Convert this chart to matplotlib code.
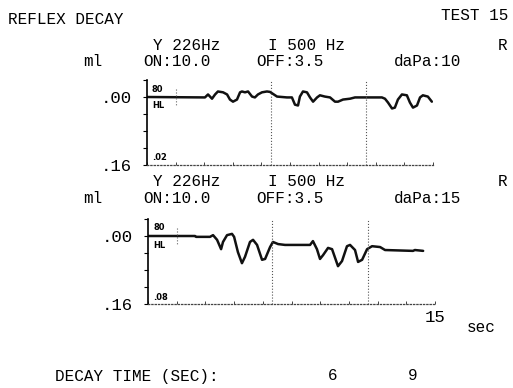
import matplotlib
matplotlib.use("Agg")
import matplotlib.pyplot as plt
import numpy as np

# time (s) and compliance change (ml)
top_t = [0.0, 3.04, 3.20, 3.41, 3.57, 3.72, 3.99, 4.20, 4.35, 4.51, 4.72, 4.88, 4.98,
         5.14, 5.30, 5.51, 5.66, 5.82, 6.03, 6.29, 6.45, 6.82, 7.34, 7.60, 7.76, 7.92,
         8.02, 8.18, 8.39, 8.55, 8.71, 8.92, 9.07, 9.33, 9.60, 9.86, 10.02, 10.28, 10.65,
         10.91, 11.48, 11.96, 12.32, 12.48, 12.64, 12.85, 13.00, 13.16, 13.37, 13.63,
         13.79, 13.95, 14.16, 14.32, 14.47, 14.73, 14.94]
top_v = [0.000, 0.001, -0.006, 0.004, -0.006, -0.013, -0.011, -0.006, 0.006, 0.011,
         0.006, -0.011, -0.013, -0.011, -0.013, -0.001, 0.001, -0.006, -0.011, -0.013,
         -0.012, -0.001, 0.001, 0.001, 0.018, 0.020, -0.001, -0.013, -0.011, 0.001, 0.011,
         0.001, -0.004, -0.001, 0.001, 0.011, 0.011, 0.006, 0.004, 0.001, 0.001, 0.001,
         0.001, 0.004, 0.013, 0.027, 0.025, 0.006, -0.006, -0.004, 0.013, 0.025, 0.020,
         0.001, -0.004, -0.001, 0.011]

bot_t = [0.0, 2.46, 2.51, 3.24, 3.40, 3.61, 3.82, 3.92, 4.13, 4.39, 4.50, 4.70, 4.91,
         5.07, 5.33, 5.49, 5.70, 5.96, 6.12, 6.38, 6.53, 6.80, 7.16, 8.47, 8.62, 8.83,
         8.99, 9.15, 9.41, 9.62, 9.93, 10.14, 10.40, 10.56, 10.82, 10.98, 11.19, 11.45,
         11.71, 12.13, 12.39, 13.85, 13.95, 14.38]
bot_v = [0.000, 0.000, 0.002, 0.002, -0.002, 0.009, 0.031, 0.014, -0.002, -0.005, 0.002,
         0.038, 0.064, 0.049, 0.014, 0.009, 0.021, 0.056, 0.054, 0.026, 0.014, 0.019,
         0.021, 0.021, 0.012, 0.031, 0.054, 0.045, 0.028, 0.031, 0.071, 0.059, 0.024,
         0.021, 0.033, 0.061, 0.056, 0.031, 0.024, 0.026, 0.033, 0.035, 0.033, 0.035]

stim_on = 1.5
markers = [6.5, 11.5]
panels = [
    {"t": top_t, "v": top_v, "dapa": "daPa:10", "floor": ".02"},
    {"t": bot_t, "v": bot_v, "dapa": "daPa:15", "floor": ".08"},
]
decay_times = ["6", "9"]

W, H = 513, 388
mono = "Liberation Mono"
FS = 11.5


def px(x, y):
    return x / W, 1 - y / H


fig = plt.figure(figsize=(W / 100, H / 100), dpi=100)

def label(x, y, s, ha="left", size=FS, family=mono, weight="normal"):
    fig.text(*px(x, y), s, ha=ha, va="center", fontsize=size,
             family=family, weight=weight)

label(8, 19, "REFLEX DECAY")
label(508, 16, "TEST 15", ha="right")

# axes boxes in pixels: left, top(-0.04), right(15 s), bottom(.16)
boxes = [(147, 80, 433, 165), (148, 219, 435, 304)]
head_y = [(45, 62), (181, 199)]

for p, box, (y1, y2) in zip(panels, boxes, head_y):
    l, tp, r, b = box
    ax = fig.add_axes([l / W, 1 - b / H, (r - l) / W, (b - tp) / H])
    ax.plot(p["t"], p["v"], color="#111111", lw=1.8, solid_joinstyle="round",
            solid_capstyle="round")
    for m in markers:
        ax.axvline(m, color="#555555", lw=0.8, ls=":")
    ax.plot([stim_on, stim_on], [-0.018, 0.02], color="#666666", lw=0.8, ls=":")
    ax.set_xlim(0, 15)
    ax.set_ylim(0.16, -0.04)
    for s in ["top", "right"]:
        ax.spines[s].set_visible(False)
    ax.spines["left"].set_linewidth(1.2)
    ax.spines["bottom"].set_linestyle(":")
    ax.spines["bottom"].set_color("#444444")
    ax.spines["bottom"].set_linewidth(0.9)
    ax.set_xticks(np.arange(0, 15.1, 1.5))
    ax.set_xticklabels([])
    ax.tick_params(axis="x", direction="in", length=2.5, width=0.7, color="#444444")
    ax.set_yticks([-0.04, 0, 0.04, 0.08, 0.12, 0.16])
    ax.set_yticklabels(["", ".00", "", "", "", ".16"], family=mono, fontsize=FS + 1)
    ax.tick_params(axis="y", direction="out", length=3, width=0.8, pad=8)
    ax.patch.set_alpha(0)

    label(153, y1, "Y 226Hz")
    label(268, y1, "I 500 Hz")
    label(507, y1, "R", ha="right")
    label(83, y2, "ml")
    label(143, y2, "ON:10.0")
    label(256, y2, "OFF:3.5")
    label(394, y2, p["dapa"])
    zero_y = b - 0.16 / 0.2 * (b - tp)
    label(l + 5, zero_y - 8, "80", size=6, family="DejaVu Sans", weight="bold")
    label(l + 5, zero_y + 9, "HL", size=6, family="DejaVu Sans", weight="bold")
    label(l + 5, b - 7, p["floor"], size=6, family="DejaVu Sans", weight="bold")

label(435, 318, "15", ha="center", size=FS + 1)
label(481, 327, "sec", ha="center")
label(55, 377, "DECAY TIME (SEC):")
label(333, 376, decay_times[0], ha="center")
label(413, 376, decay_times[1], ha="center")

fig.savefig("out.png", dpi=100)
